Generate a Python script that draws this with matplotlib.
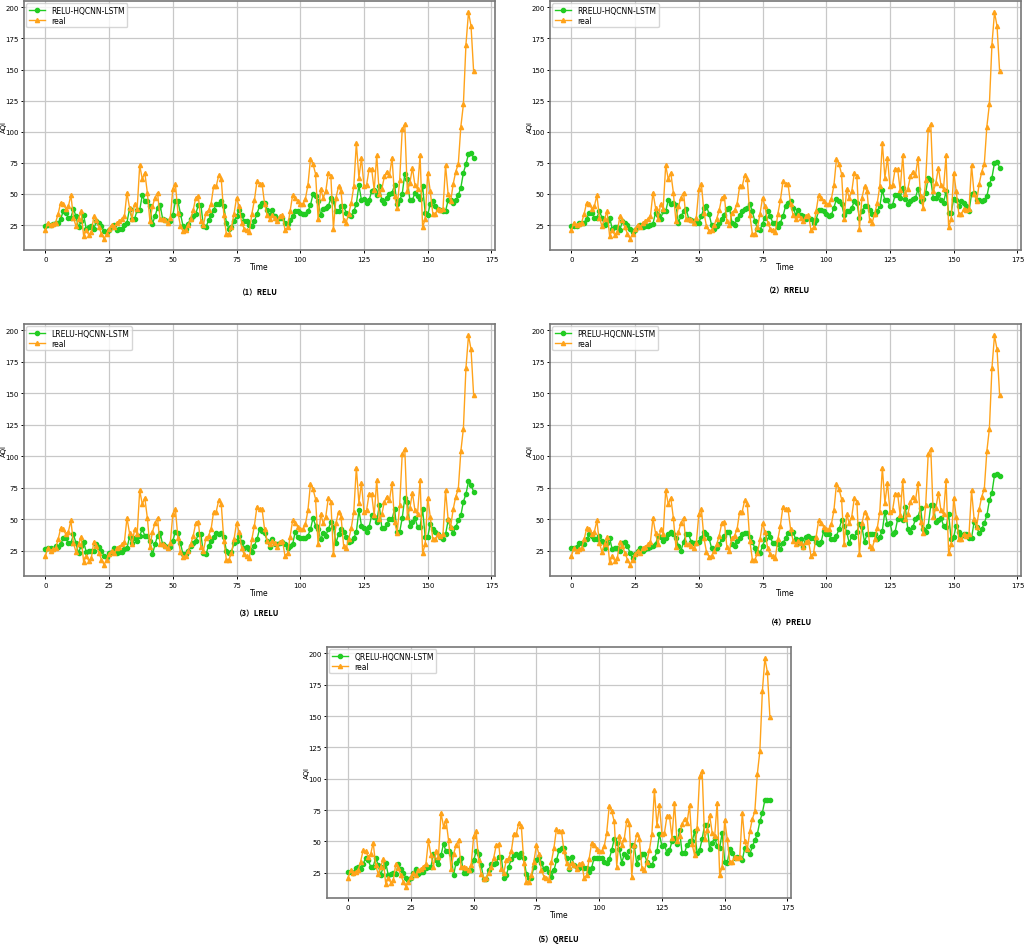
import numpy as np
import matplotlib
matplotlib.use('Agg')
import matplotlib.pyplot as plt

plt.rcParams['font.family'] = ['DejaVu Sans']

# measured AQI (same in every panel)
real = [21, 27, 25, 26, 27, 34, 43, 42, 38, 40,
        49, 31, 24, 30, 36, 16, 21, 17, 19, 32,
        29, 23, 18, 14, 18, 22, 25, 23, 27, 28,
        30, 32, 51, 39, 30, 42, 38, 73, 62, 67,
        51, 28, 40, 47, 51, 30, 30, 29, 27, 31,
        54, 58, 35, 24, 20, 21, 25, 30, 37, 47,
        48, 28, 25, 35, 37, 42, 56, 56, 65, 62,
        33, 18, 18, 23, 34, 47, 40, 27, 22, 21,
        19, 34, 45, 60, 58, 58, 42, 33, 30, 33,
        31, 28, 32, 33, 21, 23, 36, 49, 47, 44,
        42, 42, 46, 57, 78, 74, 66, 30, 54, 47,
        52, 67, 64, 22, 47, 56, 52, 29, 27, 34,
        43, 56, 91, 63, 79, 56, 57, 70, 70, 53,
        81, 50, 54, 64, 68, 65, 79, 48, 39, 61,
        102, 106, 52, 59, 71, 57, 54, 81, 23, 30,
        67, 52, 34, 34, 38, 37, 38, 73, 50, 44,
        58, 68, 74, 104, 122, 170, 196, 185, 149]

relu = [24, 25, 25, 26, 27, 27, 30, 36, 35, 31,
        31, 38, 32, 23, 28, 33, 22, 23, 24, 22,
        28, 27, 24, 20, 19, 21, 23, 25, 21, 22,
        22, 25, 27, 38, 30, 30, 37, 37, 49, 44,
        44, 40, 26, 32, 39, 41, 30, 29, 28, 28,
        33, 44, 44, 34, 24, 22, 26, 30, 32, 34,
        41, 41, 24, 23, 29, 33, 37, 42, 42, 44,
        40, 27, 22, 23, 28, 32, 37, 33, 28, 28,
        25, 24, 28, 34, 40, 43, 43, 37, 33, 37,
        32, 30, 31, 31, 27, 26, 29, 32, 36, 36,
        35, 34, 34, 36, 41, 50, 48, 44, 33, 38,
        39, 40, 47, 44, 36, 36, 40, 40, 35, 33,
        32, 36, 42, 57, 45, 46, 43, 45, 52, 53,
        49, 56, 45, 43, 47, 50, 51, 57, 42, 45,
        50, 66, 62, 45, 45, 51, 48, 46, 56, 35,
        33, 42, 44, 40, 38, 37, 36, 36, 45, 45,
        43, 45, 49, 55, 67, 74, 82, 83, 79]

rrelu = [24, 24, 24, 27, 27, 27, 30, 35, 35, 31,
         31, 36, 31, 25, 28, 31, 22, 23, 23, 21,
         28, 27, 25, 22, 19, 21, 23, 25, 23, 24,
         24, 25, 26, 35, 33, 30, 36, 36, 45, 42,
         43, 41, 27, 32, 36, 38, 30, 29, 28, 27,
         27, 32, 39, 40, 34, 25, 22, 24, 27, 30,
         33, 38, 39, 27, 25, 30, 33, 36, 38, 39,
         42, 36, 28, 22, 21, 26, 31, 36, 32, 27,
         27, 23, 27, 32, 40, 43, 44, 39, 33, 37,
         33, 32, 30, 31, 30, 27, 29, 37, 37, 36,
         34, 32, 33, 39, 46, 44, 42, 33, 36, 36,
         39, 44, 43, 31, 36, 40, 40, 37, 34, 34,
         36, 40, 53, 45, 45, 40, 41, 49, 49, 47,
         55, 46, 42, 44, 46, 47, 54, 44, 46, 51,
         63, 61, 47, 47, 50, 45, 43, 52, 35, 35,
         46, 45, 40, 44, 43, 40, 36, 50, 51, 45,
         45, 44, 45, 48, 58, 63, 75, 76, 71]

lrelu = [26, 27, 27, 26, 29, 28, 30, 35, 35, 31,
         31, 38, 31, 23, 29, 32, 24, 25, 25, 25,
         30, 28, 25, 21, 20, 23, 24, 27, 23, 24,
         24, 26, 27, 36, 31, 35, 33, 37, 42, 37,
         37, 33, 22, 30, 37, 39, 30, 29, 28, 28,
         33, 40, 39, 31, 22, 22, 25, 29, 31, 33,
         38, 38, 23, 22, 29, 33, 36, 39, 38, 39,
         36, 25, 23, 24, 31, 33, 37, 32, 27, 28,
         26, 24, 29, 34, 42, 41, 39, 33, 28, 34,
         30, 30, 31, 32, 30, 27, 29, 30, 40, 36,
         35, 35, 35, 37, 42, 51, 45, 42, 34, 39,
         37, 42, 48, 44, 31, 38, 42, 40, 36, 32,
         33, 35, 40, 57, 45, 43, 40, 44, 53, 52,
         48, 61, 43, 43, 46, 50, 50, 58, 40, 40,
         51, 67, 64, 45, 48, 51, 44, 44, 58, 36,
         36, 46, 42, 40, 38, 36, 34, 38, 49, 43,
         39, 44, 49, 53, 64, 70, 80, 77, 72]

prelu = [27, 27, 28, 31, 31, 30, 34, 38, 37, 34,
         34, 37, 33, 27, 31, 35, 26, 27, 27, 25,
         31, 32, 29, 23, 19, 22, 25, 27, 25, 26,
         27, 28, 29, 30, 37, 36, 33, 35, 38, 40,
         38, 35, 29, 25, 32, 38, 38, 32, 31, 31,
         32, 35, 40, 38, 35, 27, 26, 27, 30, 34,
         37, 40, 40, 30, 29, 33, 35, 38, 39, 39,
         36, 32, 27, 24, 23, 29, 34, 39, 36, 31,
         31, 30, 26, 31, 35, 39, 39, 40, 34, 31,
         34, 28, 36, 37, 35, 35, 32, 30, 32, 41,
         38, 38, 34, 34, 37, 42, 49, 45, 40, 31,
         37, 36, 40, 46, 44, 32, 38, 38, 38, 38,
         34, 36, 41, 56, 46, 47, 38, 40, 50, 51,
         49, 60, 42, 40, 44, 50, 52, 59, 42, 40,
         45, 61, 61, 48, 49, 51, 45, 44, 54, 34,
         36, 45, 40, 37, 38, 38, 35, 35, 48, 44,
         39, 42, 47, 53, 65, 71, 85, 86, 84]

qrelu = [26, 26, 25, 29, 30, 28, 32, 37, 35, 30,
         30, 37, 31, 23, 30, 33, 23, 24, 25, 24,
         32, 28, 25, 21, 19, 21, 25, 28, 24, 26,
         26, 29, 30, 30, 40, 35, 32, 39, 48, 42,
         42, 40, 23, 33, 35, 37, 25, 25, 27, 27,
         35, 42, 40, 31, 20, 20, 27, 32, 32, 33,
         38, 38, 21, 23, 30, 36, 39, 40, 38, 41,
         37, 24, 21, 21, 30, 35, 38, 33, 28, 29,
         26, 22, 27, 35, 43, 45, 45, 37, 28, 38,
         31, 30, 29, 30, 29, 29, 26, 29, 37, 37,
         37, 37, 34, 33, 36, 43, 52, 49, 44, 33,
         40, 38, 42, 47, 46, 32, 38, 40, 40, 34,
         31, 31, 37, 42, 56, 46, 47, 41, 43, 50,
         53, 48, 59, 41, 41, 47, 50, 50, 58, 41,
         43, 52, 63, 63, 44, 49, 53, 46, 45, 57,
         34, 33, 44, 41, 37, 38, 37, 35, 45, 43,
         40, 46, 51, 56, 66, 73, 83, 83, 83]

names = ['RELU', 'RRELU', 'LRELU', 'PRELU', 'QRELU']
preds = [relu, rrelu, lrelu, prelu, qrelu]

# axes boxes (left, top, width, height) and caption centres, in pixels
W, H = 1024, 945
boxes = [(24, 2, 471, 249), (550, 2, 471, 249),
         (24, 325, 471, 252), (550, 325, 471, 252),
         (327, 648, 464, 251)]
captions = [(258, 293), (788, 291), (257, 614), (790, 623), (557, 940)]

fig = plt.figure(figsize=(W / 100, H / 100), dpi=100)

for i in range(5):
    l, t, w, h = boxes[i]
    ax = fig.add_axes([l / W, (H - t - h) / H, w / W, h / H])
    x = np.arange(len(real))
    ax.plot(x, preds[i], color='#22cc22', marker='o', markersize=3,
            linewidth=1.0, label=names[i] + '-HQCNN-LSTM')
    ax.plot(x, real, color='#ffa31a', marker='^', markersize=3,
            linewidth=1.0, label='real')
    ax.grid(True, color='#c8c8c8', linewidth=0.9)
    ax.set_axisbelow(True)
    for s in ax.spines.values():
        s.set_color('#777777')
        s.set_linewidth(1.2)
    ax.tick_params(labelsize=5, length=2.5, width=0.7, pad=1.5)
    ax.set_xlabel('Time', fontsize=5.5, labelpad=0)
    ax.set_ylabel('AQI', fontsize=5)
    # label's right edge about 17 px left of the spine
    ax.yaxis.set_label_coords(-17 / w, 0.5)
    ax.legend(loc='upper left', fontsize=5.5, borderaxespad=0.3,
              handlelength=2.2, framealpha=0.8, borderpad=0.3,
              labelspacing=0.2)
    cx, cy = captions[i]
    fig.text(cx / W, 1 - cy / H, '（%d）%s' % (i + 1, names[i]),
             ha='center', va='center', fontsize=5.5, fontweight='bold',
             family=['Noto Sans CJK SC', 'DejaVu Sans'])

fig.savefig('out.png', dpi=100)
